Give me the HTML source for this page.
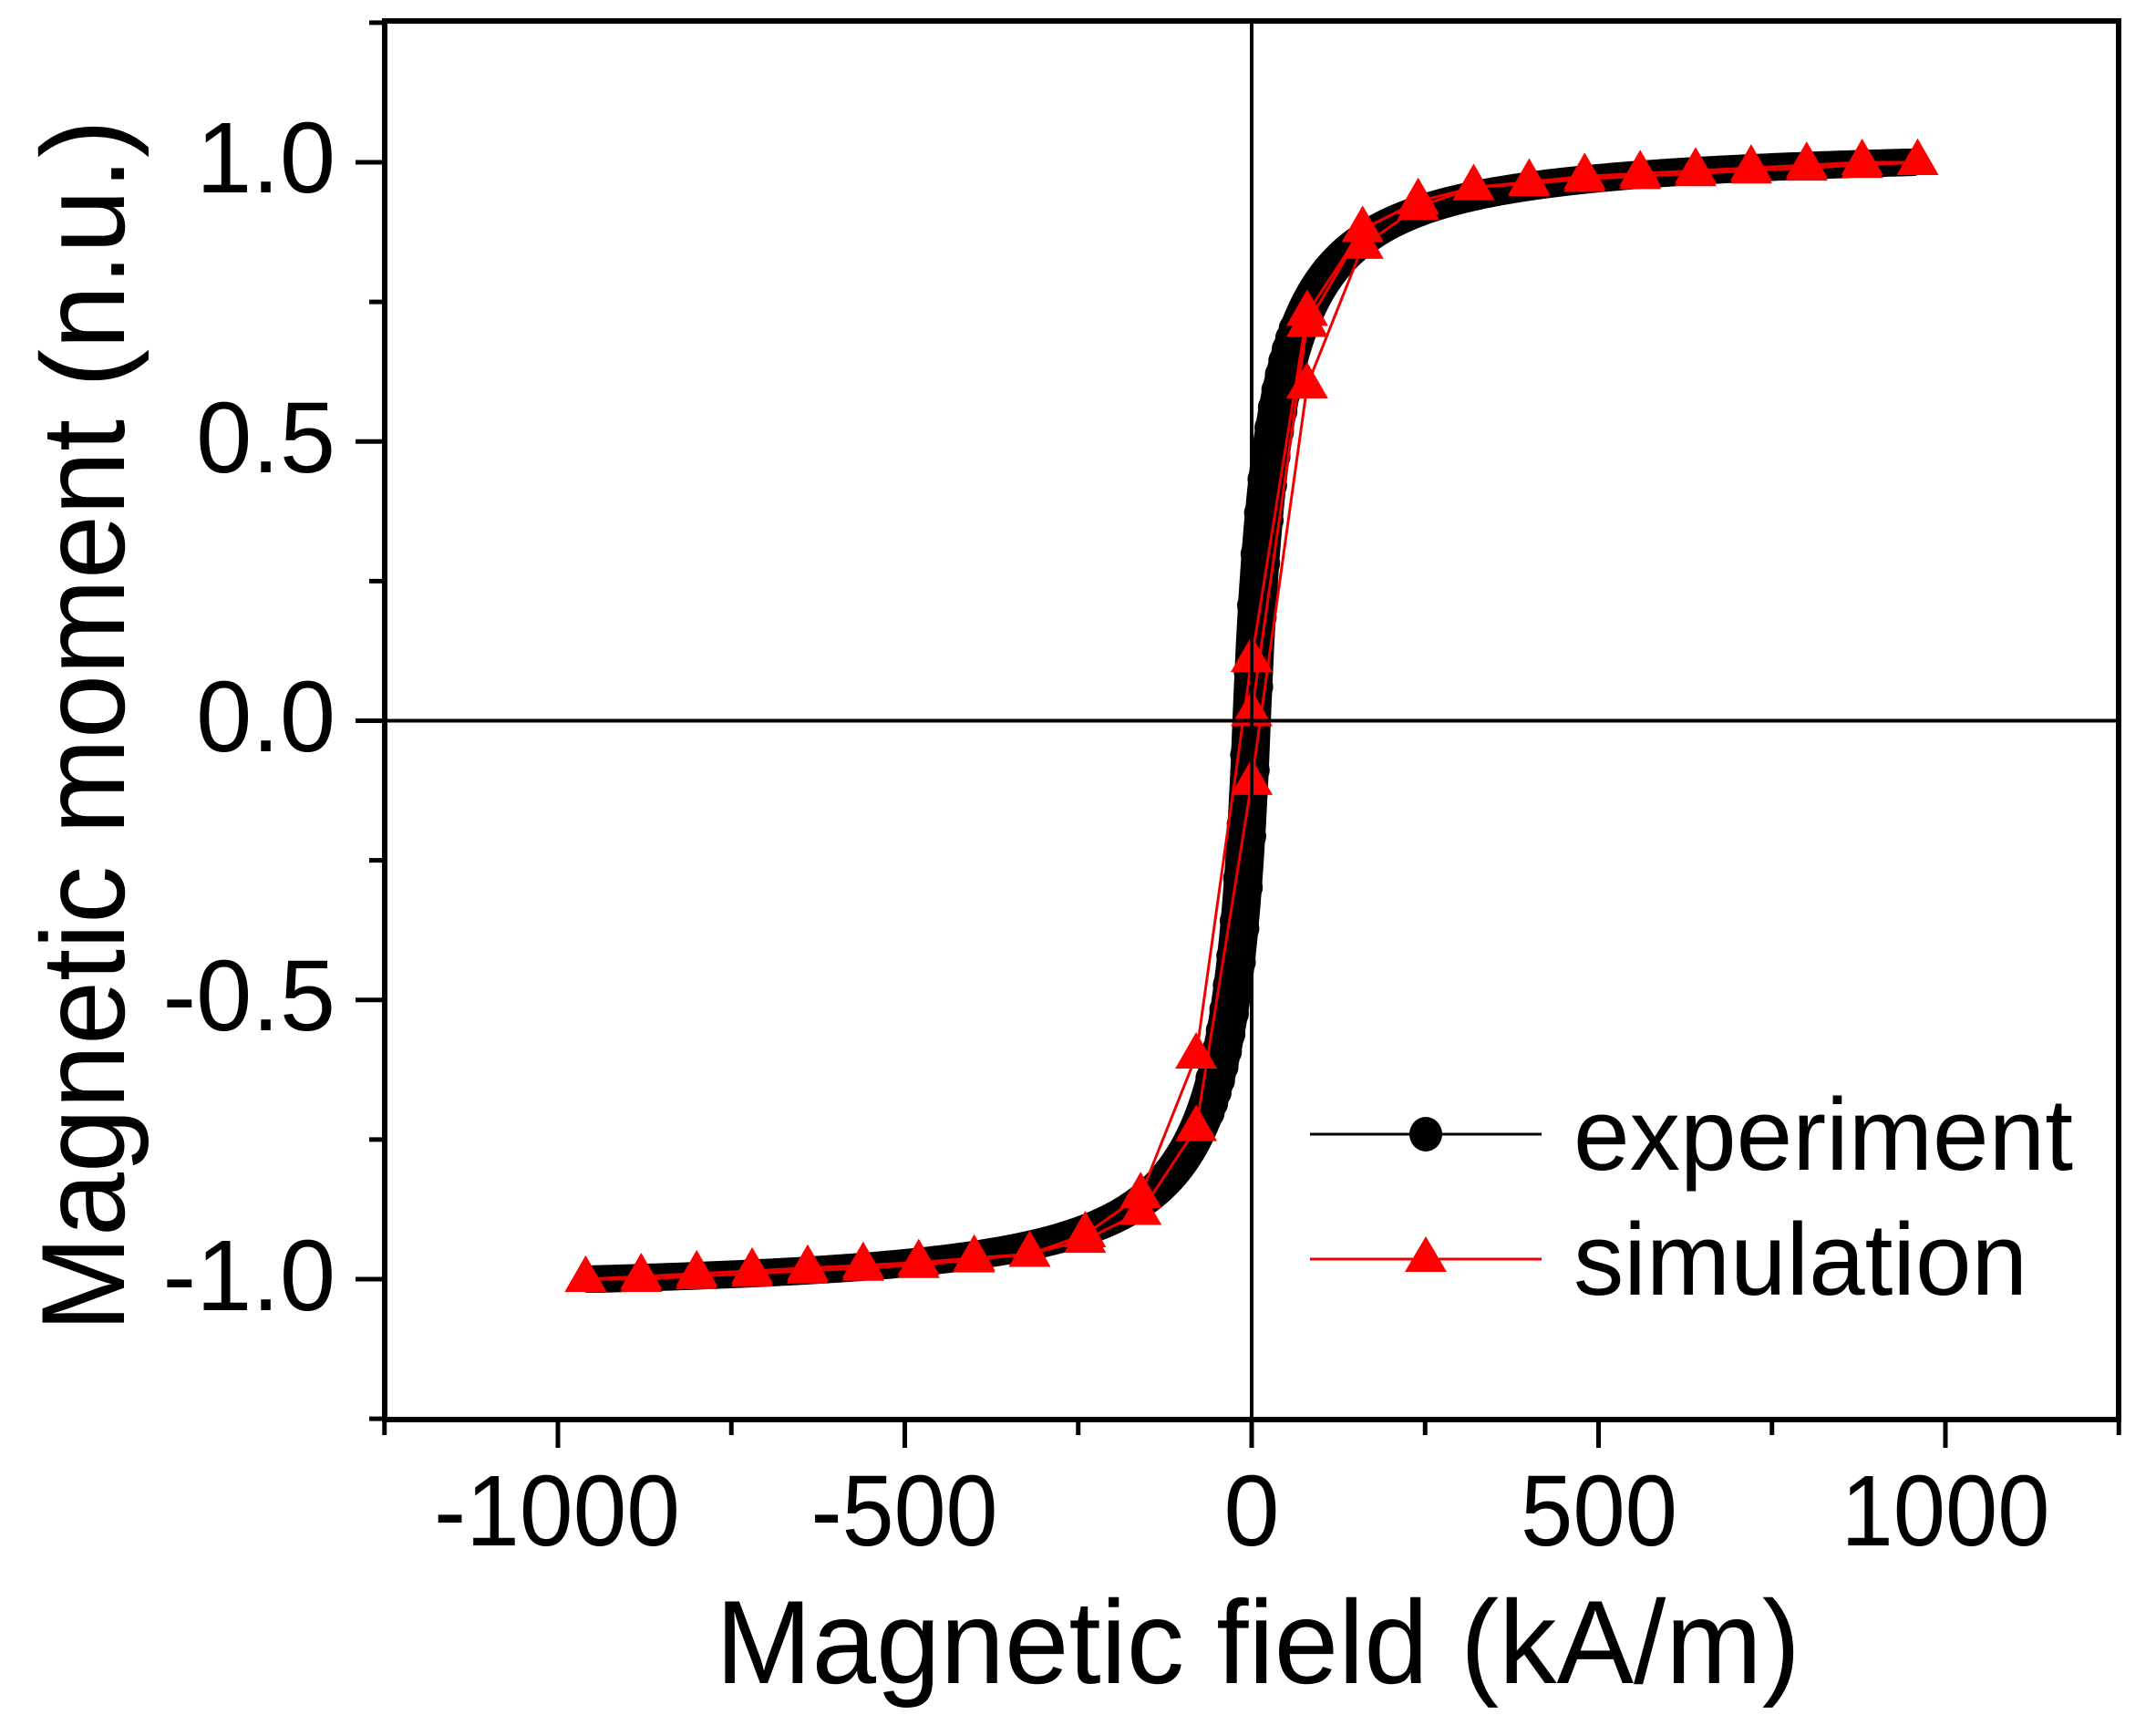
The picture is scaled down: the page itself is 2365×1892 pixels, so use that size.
<!DOCTYPE html>
<html><head><meta charset="utf-8"><style>
html,body{margin:0;padding:0;background:#fff;}
svg{display:block;}
text{font-family:"Liberation Sans",Arial,sans-serif;fill:#000;}
</style></head><body>
<svg id="s" width="2365" height="1892" viewBox="0 0 2365 1892" xmlns="http://www.w3.org/2000/svg">
<rect width="2365" height="1892" fill="#fff"/>
<g id="data"></g>
<line x1="1373" y1="23" x2="1373" y2="1557" stroke="#000" stroke-width="4"/>
<line x1="422" y1="790.5" x2="2324" y2="790.5" stroke="#000" stroke-width="4"/>
<rect x="422" y="23" width="1902" height="1534" fill="none" stroke="#000" stroke-width="6"/>
<g id="ticks" stroke="#000" stroke-width="5"></g>
<g font-size="110" text-anchor="end">
<text x="368" y="211">1.0</text>
<text x="368" y="518">0.5</text>
<text x="368" y="824">0.0</text>
<text x="368" y="1130">-0.5</text>
<text x="368" y="1437">-1.0</text>
</g>
<g font-size="110" text-anchor="middle">
<text x="611" y="1695" textLength="270" lengthAdjust="spacingAndGlyphs">-1000</text>
<text x="992" y="1695" textLength="205" lengthAdjust="spacingAndGlyphs">-500</text>
<text x="1373" y="1695">0</text>
<text x="1754" y="1695" textLength="172" lengthAdjust="spacingAndGlyphs">500</text>
<text x="2134" y="1695" textLength="229" lengthAdjust="spacingAndGlyphs">1000</text>
</g>
<text x="1380" y="1846" font-size="130" text-anchor="middle" textLength="1190" lengthAdjust="spacingAndGlyphs">Magnetic field (kA/m)</text>
<text transform="translate(136,796) rotate(-90)" font-size="130" text-anchor="middle" textLength="1330" lengthAdjust="spacingAndGlyphs">Magnetic moment (n.u.)</text>
<line x1="1437" y1="1244" x2="1691" y2="1244" stroke="#000" stroke-width="3"/>
<ellipse cx="1564" cy="1244" rx="18" ry="19" fill="#000"/>
<line x1="1437" y1="1381" x2="1691" y2="1381" stroke="#e00" stroke-width="3"/>
<polygon points="1564,1356 1587,1395 1541,1395" fill="#f00"/>
<text x="1726" y="1283" font-size="112" textLength="548" lengthAdjust="spacingAndGlyphs">experiment</text>
<text x="1726" y="1420" font-size="112" textLength="498" lengthAdjust="spacingAndGlyphs">simulation</text>
</svg>
<script>
var NS="http://www.w3.org/2000/svg";
function X(h){return 1373+h*0.761;}
function Y(m){return 790.5-m*612.5;}
function el(n,a,p){var e=document.createElementNS(NS,n);for(var k in a)e.setAttribute(k,a[k]);p.appendChild(e);return e;}
var t=document.getElementById('ticks');
for(var i=-5;i<=5;i++){var v=i*0.25,y=Y(v),maj=(i%2==0);el('line',{x1:maj?390:405,y1:y,x2:422,y2:y},t);}
for(var i=-5;i<=5;i++){var h=i*250,x=X(h),maj=(i%2==0);el('line',{x1:x,y1:1557,x2:x,y2:maj?1588:1574},t);}
var d=document.getElementById('data');
function g(h){var f=function(u){return u/(Math.abs(u)+32);};return f(h)/f(950);}
function branch(sh){var p=[];for(var h=-955;h<=955;h+=4){var m=g(h+sh);m=Math.max(-1.0,Math.min(1.0,m));p.push(X(h)+','+Y(m));}return p.join(' ');}
[-8,8].forEach(function(s){
 el('polyline',{points:branch(s),fill:'none',stroke:'#000','stroke-width':30,'stroke-linejoin':'round','stroke-linecap':'round'},d);
});
for(var h=-60;h<=60;h+=5){[-8,8].forEach(function(s){el('circle',{cx:X(h),cy:Y(Math.max(-1,Math.min(1,g(h+s)))),r:16,fill:'#000'},d);});}
var up={960:1.0,880:0.995,800:0.99,720:0.985,640:0.98,560:0.975,480:0.97,400:0.962,320:0.955,240:0.92,160:0.85,80:0.60,0:-0.11,'-80':-0.73,'-160':-0.88,'-240':-0.93,'-320':-0.955,'-400':-0.965,'-480':-0.975,'-560':-0.98,'-640':-0.985,'-720':-0.99,'-800':-0.995,'-880':-1.0,'-960':-1.0};
var dn={};for(var k in up){dn[-k]=-up[k];}
var ini={0:0.013,80:0.71,160:0.88,240:0.93};
function line(obj){var ks=Object.keys(obj).map(Number).sort(function(a,b){return a-b});var p=ks.map(function(k){return X(k)+','+Y(obj[k]);}).join(' ');el('polyline',{points:p,fill:'none',stroke:'#e00','stroke-width':3},d);}
function tris(obj){Object.keys(obj).forEach(function(k){var x=X(+k),y=Y(obj[k]);el('polygon',{points:x+','+(y-26)+' '+(x+23)+','+(y+14)+' '+(x-23)+','+(y+14),fill:'#f00'},d);});}
line(up);line(dn);line(ini);tris(up);tris(dn);tris(ini);
</script>
</body></html>
